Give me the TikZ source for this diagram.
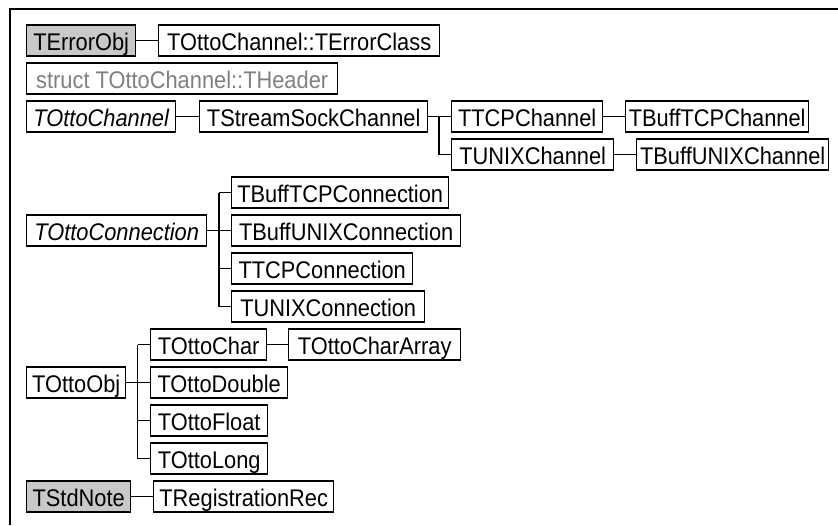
\documentclass[tikz,border=0pt]{standalone}
\usepackage{fontspec}
\setmainfont{Liberation Sans}
% class names are set slightly narrower and taller than the plain font
\newcommand{\clsname}[1]{\scalebox{0.97}[1.07]{#1}}
\begin{document}
\begin{tikzpicture}[x=1pt,y=-1pt,
  cls/.style={draw=black, line width=1.4pt, fill=white, font=\fontsize{22.5}{24}\selectfont,
    minimum height=31pt, inner ysep=0pt, inner xsep=3pt, text height=20.5pt, text depth=0pt,
    anchor=west},
  noted/.style={cls, fill={rgb,255:red,200;green,200;blue,200}},
  undoc/.style={cls, text={rgb,255:red,128;green,128;blue,128}},
  abstr/.style={cls, font=\fontsize{22.5}{24}\selectfont\itshape},
  link/.style={draw=black, line width=1.4pt},
  frameline/.style={draw=black, line width=2pt}]
\useasboundingbox (0,0) rectangle (838,525);

% outer frame (top and left edges)
\draw[frameline] (10,525) -- (10,9) -- (838,9);

% row 1
\node[noted, minimum width=109] (terrorobj) at (26,40.5) {\clsname{TErrorObj}};
\node[cls, minimum width=281] (terrorclass) at (158,40.5) {\clsname{TOttoChannel::TErrorClass}};
% row 2
\node[undoc, minimum width=311] (theader) at (26,78.5) {\clsname{struct TOttoChannel::THeader}};
% channels
\node[abstr, minimum width=149] (ottochan) at (26,116.5) {\clsname{TOttoChannel}};
\node[cls, minimum width=228] (streamsock) at (199,116.5) {\clsname{TStreamSockChannel}};
\node[cls, minimum width=151] (tcpchan) at (451,116.5) {\clsname{TTCPChannel}};
\node[cls, minimum width=183] (bufftcpchan) at (625,116.5) {\clsname{TBuffTCPChannel}};
\node[cls, minimum width=162] (unixchan) at (451,154.5) {\clsname{TUNIXChannel}};
\node[cls, minimum width=192] (buffunixchan) at (636,154.5) {\clsname{TBuffUNIXChannel}};
% connections
\node[abstr, minimum width=180] (ottoconn) at (26,230.5) {\clsname{TOttoConnection}};
\node[cls, minimum width=217] (bufftcpconn) at (231,192.5) {\clsname{TBuffTCPConnection}};
\node[cls, minimum width=229] (buffunixconn) at (231,230.5) {\clsname{TBuffUNIXConnection}};
\node[cls, minimum width=181] (tcpconn) at (231,268.5) {\clsname{TTCPConnection}};
\node[cls, minimum width=193] (unixconn) at (231,306.5) {\clsname{TUNIXConnection}};
% objects
\node[cls, minimum width=99] (ottoobj) at (26,382.5) {\clsname{TOttoObj}};
\node[cls, minimum width=116] (ottochar) at (150,344.5) {\clsname{TOttoChar}};
\node[cls, minimum width=172] (ottochararr) at (288,344.5) {\clsname{TOttoCharArray}};
\node[cls, minimum width=137] (ottodouble) at (150,382.5) {\clsname{TOttoDouble}};
\node[cls, minimum width=117] (ottofloat) at (150,420.5) {\clsname{TOttoFloat}};
\node[cls, minimum width=117] (ottolong) at (150,458.5) {\clsname{TOttoLong}};
% notes
\node[noted, minimum width=104] (stdnote) at (26,496.5) {\clsname{TStdNote}};
\node[cls, minimum width=180] (regrec) at (153,496.5) {\clsname{TRegistrationRec}};

% single-child links
\draw[link] (terrorobj.east) -- (terrorclass.west);
\draw[link] (ottochan.east) -- (streamsock.west);
\draw[link] (tcpchan.east) -- (bufftcpchan.west);
\draw[link] (unixchan.east) -- (buffunixchan.west);
\draw[link] (ottochar.east) -- (ottochararr.west);
\draw[link] (stdnote.east) -- (regrec.west);

% branch: TStreamSockChannel
\coordinate (bchan) at (439,116.5);
\draw[link] (streamsock.east) -- (bchan) -- (tcpchan.west);
\draw[link] (bchan) |- (unixchan.west);

% branch: TOttoConnection
\coordinate (bconn) at (219,230.5);
\draw[link] (ottoconn.east) -- (bconn);
\draw[link] (bconn |- bufftcpconn.west) -- (bconn |- unixconn.west);
\foreach \n in {bufftcpconn,buffunixconn,tcpconn,unixconn}
  \draw[link] (bconn |- \n.west) -- (\n.west);

% branch: TOttoObj
\coordinate (bobj) at (137.5,382.5);
\draw[link] (ottoobj.east) -- (bobj);
\draw[link] (bobj |- ottochar.west) -- (bobj |- ottolong.west);
\foreach \n in {ottochar,ottodouble,ottofloat,ottolong}
  \draw[link] (bobj |- \n.west) -- (\n.west);
\end{tikzpicture}
\end{document}
